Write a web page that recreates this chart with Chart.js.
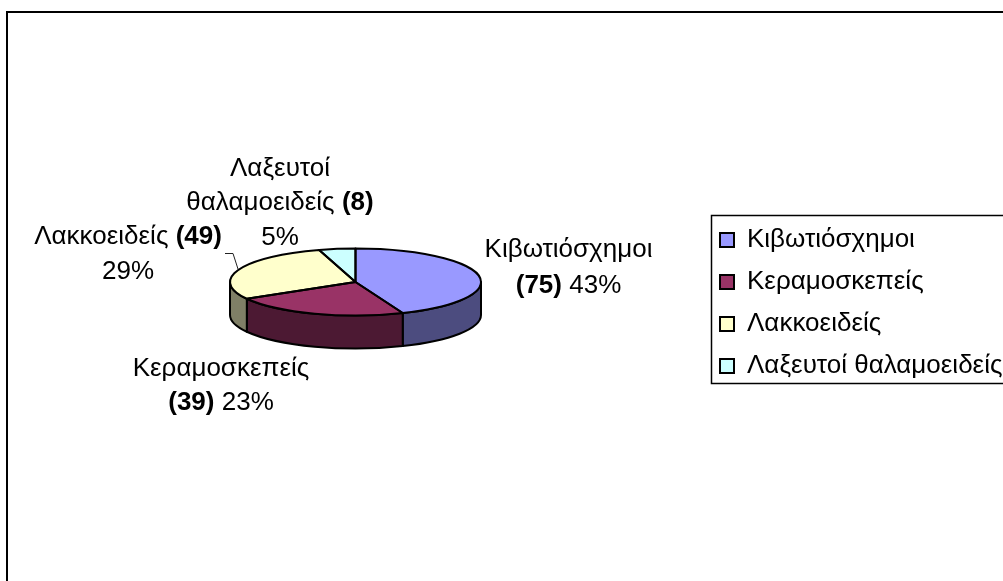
<!DOCTYPE html>
<html><head><meta charset="utf-8">
<style>html,body{margin:0;padding:0;background:#fff;overflow:hidden}canvas{display:block}</style>
<script src="https://cdn.jsdelivr.net/npm/chart.js@4"></script>
</head><body><canvas id="c" width="1003" height="581"></canvas>
<script>
const categories = ['Κιβωτιόσχημοι','Κεραμοσκεπείς','Λακκοειδείς','Λαξευτοί θαλαμοειδείς'];
const values = [75,39,49,8];
const percentLabels = ['43%','23%','29%','5%'];
const colors = ['#9999FF','#993366','#FFFFCC','#CCFFFF'];
const FONT_FAMILY = '"Liberation Sans", Arial, sans-serif';
const FONT_SIZE = 26;
const TILT = 33.5/125.5, DEPTH = 33;

// data labels: [centre x, baseline y, lines of [text, bold]]
const v = i => '('+values[i]+')';
const dataLabels = [
  {x:568.5, lines:[[257,[[ 'Κιβωτιόσχημοι',0]]],[293,[[v(0),1],[' '+percentLabels[0],0]]]]},
  {x:221, lines:[[376,[[ 'Κεραμοσκεπείς',0]]],[410,[[v(1),1],[' '+percentLabels[1],0]]]]},
  {x:128, lines:[[244,[[ 'Λακκοειδείς ',0],[v(2),1]]],[279,[[percentLabels[2],0]]]]},
  {x:280, lines:[[176,[[ 'Λαξευτοί',0]]],[210,[[ 'θαλαμοειδείς ',0],[v(3),1]]],[245,[[percentLabels[3],0]]]]}
];
const halve = h => '#'+[1,3,5].map(i=>(parseInt(h.substr(i,2),16)>>1).toString(16).padStart(2,'0')).join('');

const pie3d = {
  id:'pie3d',
  afterLayout(chart){
    const l = chart.legend;
    const w = l.width, h = l.height;
    l.left = 704; l.top = 211; l.right = 704+w; l.bottom = 211+h;
  },
  beforeDraw(chart){
    const c = chart.ctx;
    c.save();
    c.fillStyle='#fff'; c.fillRect(0,0,chart.width,chart.height);
    c.strokeStyle='#000'; c.lineWidth=2;
    c.strokeRect(7,12,1100,700);       // outer frame, runs off the picture
    c.lineWidth=1.5;
    c.strokeRect(711.5,215.5,400,168); // legend frame, runs off the picture
    c.restore();
  },
  beforeDatasetsDraw(chart){
    const c = chart.ctx, arcs = chart.getDatasetMeta(0).data;
    const cx = arcs[0].x, cy = arcs[0].y, r = arcs[0].outerRadius, ry = r*TILT;
    c.save();
    c.lineWidth = 2; c.strokeStyle = '#000'; c.lineJoin='round';
    arcs.forEach((a,i)=>{
      const s = Math.max(a.startAngle,0), e = Math.min(a.endAngle,Math.PI);
      if (e<=s) return;
      c.beginPath();
      c.ellipse(cx,cy,r,ry,0,s,e);
      c.ellipse(cx,cy+DEPTH,r,ry,0,e,s,true);
      c.closePath();
      c.fillStyle = halve(colors[i]);
      c.fill(); c.stroke();
    });
    arcs.forEach(a=>{
      c.save();
      c.translate(cx,cy); c.scale(1,TILT); c.translate(-cx,-cy);
      a.draw(c);
      c.restore();
    });
    arcs.forEach(a=>{
      c.beginPath();
      c.moveTo(cx,cy);
      c.ellipse(cx,cy,r,ry,0,a.startAngle,a.endAngle);
      c.closePath();
      c.stroke();
    });
    // leader line
    c.lineWidth=1; c.strokeStyle='#222';
    c.beginPath(); c.moveTo(225,253.5); c.lineTo(233,253.5); c.lineTo(238,269); c.stroke();
    c.restore();
    return false;
  },
  afterDraw(chart){
    const c = chart.ctx;
    c.save();
    c.fillStyle='#000'; c.textBaseline='alphabetic'; c.textAlign='left';
    const fnt = b => (b?'bold ':'')+FONT_SIZE+'px '+FONT_FAMILY;
    dataLabels.forEach(d=>{
      d.lines.forEach(([y,runs])=>{
        let w=0; runs.forEach(([t,b])=>{c.font=fnt(b); w+=c.measureText(t).width;});
        let x=d.x-w/2;
        runs.forEach(([t,b])=>{c.font=fnt(b); c.fillText(t,x,y); x+=c.measureText(t).width;});
      });
    });
    c.restore();
  }
};

new Chart(document.getElementById('c'),{
  type:'pie',
  data:{labels:categories,datasets:[{data:values,backgroundColor:colors,borderWidth:0,radius:125.5}]},
  plugins:[pie3d],
  options:{
    responsive:false,animation:false,rotation:0,
    layout:{padding:{left:0,right:292,top:0,bottom:17}},
    plugins:{
      tooltip:{enabled:false},
      legend:{
        position:'chartArea',align:'start',
        labels:{
          boxWidth:14,boxHeight:14,padding:16,color:'#000',
          font:{family:FONT_FAMILY,size:FONT_SIZE},
          generateLabels(ch){
            return Chart.overrides.pie.plugins.legend.labels.generateLabels(ch)
              .map(l=>({...l,lineWidth:2,strokeStyle:'#000'}));
          }
        }
      }
    }
  }
});
</script></body></html>
